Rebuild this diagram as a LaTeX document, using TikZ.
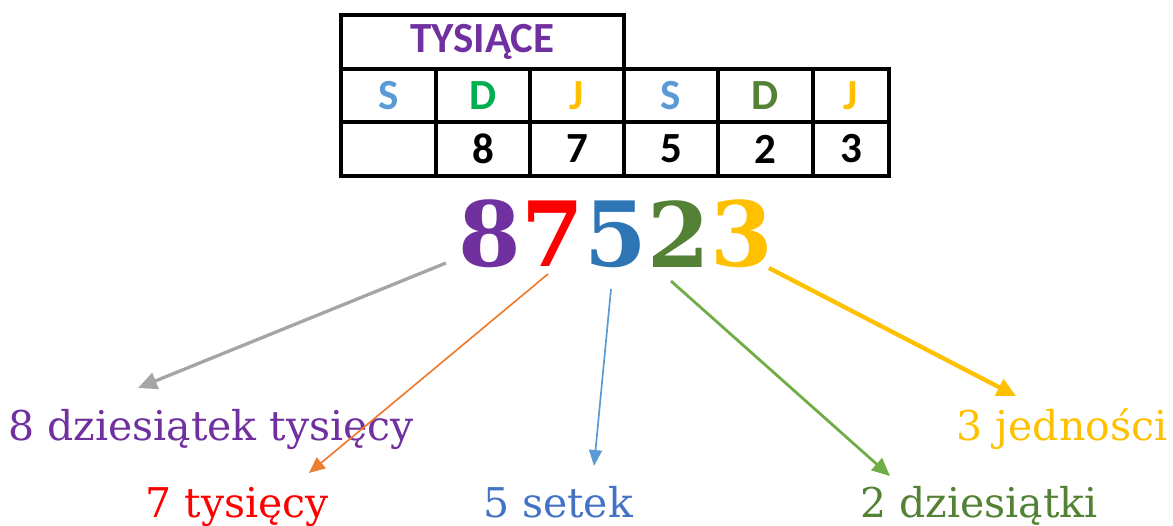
\documentclass[tikz,border=0pt]{standalone}
\usepackage{fontspec}
\usetikzlibrary{arrows.meta,positioning}
\newfontfamily\tabfont{Carlito}
\newfontfamily\serfont{DejaVu Serif}
\definecolor{fiolet}{HTML}{7030A0}
\definecolor{czerw}{HTML}{FF0000}
\definecolor{nieb}{HTML}{2E75B6}
\definecolor{niebS}{HTML}{5B9BD5}
\definecolor{niebL}{HTML}{4472C4}
\definecolor{ziel}{HTML}{00B050}
\definecolor{zielC}{HTML}{538135}
\definecolor{zielS}{HTML}{70AD47}
\definecolor{zolty}{HTML}{FFC000}
\definecolor{szary}{HTML}{A5A5A5}
\definecolor{pomar}{HTML}{ED7D31}
\tikzset{
  tab/.style={font=\tabfont\bfseries\fontsize{43}{47}\selectfont, inner sep=0pt},
  big/.style={font=\serfont\bfseries\fontsize{90}{96}\selectfont, inner sep=0pt},
  lab/.style={font=\serfont\fontsize{41}{46}\selectfont, inner sep=0pt, anchor=base},
  grid/.style={line width=3.2pt},
  tip/.style 2 args={-{Triangle[length=#1, width=#2]}}
}
\begin{document}
\begin{tikzpicture}[x=1pt, y=-1pt]
    \useasboundingbox (0,0) rectangle (1173,525);

    % table
    \draw[grid] (341,15) rectangle (624,69);
    \draw[grid] (341,69) rectangle (889,176);
    \draw[grid] (341,122) -- (889,122);
    \foreach \x in {436,530,624,718,813}
        \draw[grid] (\x,69) -- (\x,176);

    \node[tab, text=fiolet] (tys) at (482.5,42) {TYSIĄCE};
    \foreach \x/\l/\c in {388.5/S/niebS, 483/D/ziel, 577/J/zolty, 671/S/niebS, 765.5/D/zielC, 851/J/zolty}
        \node[tab, text=\c] at (\x,95.5) {\l};
    \foreach \x/\v in {483/8, 577/7, 671/5, 765.5/2, 851/3}
        \node[tab] at (\x,149) {\v};

    % the number
    \node[big, text=fiolet] (d8) at (490,234) {8};
    \node[big, text=czerw, right=0pt of d8] (d7) {7};
    \node[big, text=nieb, right=0pt of d7] (d5) {5};
    \node[big, text=zielC, right=0pt of d5] (d2) {2};
    \node[big, text=zolty, right=0pt of d2] (d3) {3};

    % labels
    \node[lab, text=fiolet] (l8) at (211,440) {8 dziesiątek tysięcy};
    \node[lab, text=czerw] (l7) at (237.5,517) {7 tysięcy};
    \node[lab, text=niebL] (l5) at (558,517) {5 setek};
    \node[lab, text=zielC] (l2) at (979,517) {2 dziesiątki};
    \node[lab, text=zolty] (l3) at (1062,440) {3 jedności};

    \coordinate (s8) at (446,263); \coordinate (e8) at (138,388);
    \coordinate (s7) at (548,274); \coordinate (e7) at (309,473);
    \coordinate (s5) at (611,289); \coordinate (e5) at (594,466);
    \coordinate (s2) at (671,281); \coordinate (e2) at (890,476);
    \coordinate (s3) at (769,268); \coordinate (e3) at (1016,396);

    \draw[tip={19pt}{17pt}, szary, line width=3.3pt] (s8) -- (e8);
    \draw[tip={16pt}{14pt}, pomar, line width=1.7pt] (s7) -- (e7);
    \draw[tip={16pt}{13pt}, niebS, line width=1.7pt] (s5) -- (e5);
    \draw[tip={18pt}{16pt}, zielS, line width=2.8pt] (s2) -- (e2);
    \draw[tip={19pt}{18pt}, zolty, line width=4.3pt] (s3) -- (e3);
\end{tikzpicture}
\end{document}
